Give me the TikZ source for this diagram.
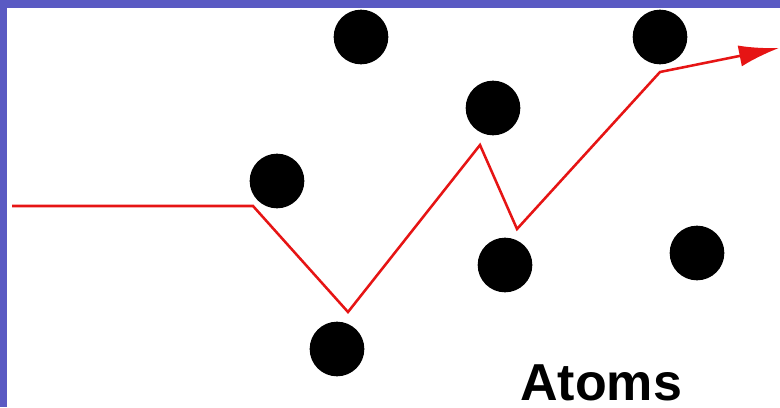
\documentclass[tikz,border=0pt]{standalone}
\usepackage{fontspec}
\setmainfont{Liberation Sans}
\usetikzlibrary{arrows.meta}
\definecolor{slideblue}{RGB}{90,90,195}
\definecolor{pathred}{RGB}{230,20,20}
\begin{document}
\begin{tikzpicture}[x=0.75pt,y=-0.75pt,
  atom/.style={circle,fill=black,draw=none,minimum size=41pt,inner sep=0pt},
  track/.style={draw=pathred,line width=1.9pt,line join=miter},
  label/.style={font=\fontsize{39}{39}\selectfont\bfseries,inner sep=0pt,anchor=base west}]
\useasboundingbox (0,0) rectangle (780,407);
\fill[slideblue] (0,0) rectangle (780,407);
\fill[white] (7,8) rectangle (780,407);
% atoms
\node[atom] (a1) at (361,37) {};
\node[atom] (a2) at (660,37) {};
\node[atom] (a3) at (493,108) {};
\node[atom] (a4) at (277,181) {};
\node[atom] (a5) at (505,265) {};
\node[atom] (a6) at (697,253) {};
\node[atom] (a7) at (337,349) {};
% path corners
\coordinate (p0) at (12,206);
\coordinate (p1) at (253,206);
\coordinate (p2) at (348,312);
\coordinate (p3) at (480,145);
\coordinate (p4) at (517,229);
\coordinate (p5) at (660,72);
\coordinate (p6) at (779,48);
\draw[track,-{Latex[length=30pt,width=16pt]}] (p0) -- (p1) -- (p2) -- (p3) -- (p4) -- (p5) -- (p6);
\node[label] (t) at (520,400) {Atoms};
\end{tikzpicture}
\end{document}
